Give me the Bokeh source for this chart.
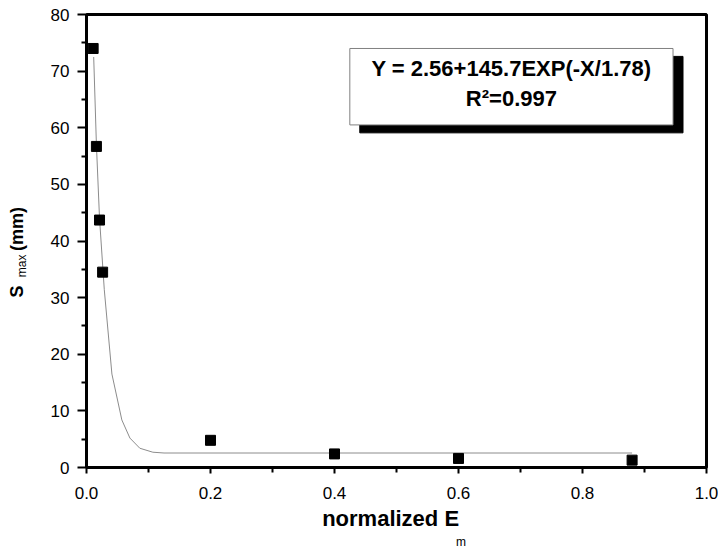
from bokeh.plotting import figure
from bokeh.models import Label, Range1d, FixedTicker, LinearAxis
from bokeh.embed import file_html
from bokeh.resources import INLINE

# ---- data ----
em_norm = [0.0107, 0.016, 0.021, 0.026, 0.2, 0.4, 0.6, 0.88]
s_max = [74.0, 56.7, 43.7, 34.5, 4.8, 2.4, 1.6, 1.3]

fit_x = [0.0116, 0.016, 0.021, 0.0287, 0.041, 0.057, 0.070, 0.086, 0.107, 0.125, 0.88]
fit_y = [72.5, 57.0, 44.0, 31.4, 16.5, 8.4, 5.2, 3.4, 2.7, 2.56, 2.56]

x_ticks = [0.0, 0.2, 0.4, 0.6, 0.8, 1.0]
x_minor = [0.1, 0.3, 0.5, 0.7, 0.9]
x_tick_labels = ["0.0", "0.2", "0.4", "0.6", "0.8", "1.0"]
y_ticks = [0, 10, 20, 30, 40, 50, 60, 70, 80]
y_minor = [5, 15, 25, 35, 45, 55, 65, 75]

eq_text = "Y = 2.56+145.7EXP(-X/1.78)"
r2_text = "R\u00b2=0.997"
x_title, x_sub = "normalized E", "m"
y_title, y_sub, y_unit = "S", "max", "(mm)"

FONT = "Liberation Sans"

p = figure(width=718, height=551, output_backend="svg", toolbar_location=None,
           x_range=Range1d(0, 1), y_range=Range1d(0, 80),
           min_border_left=86, min_border_right=12, min_border_top=14, min_border_bottom=84)
p.grid.visible = False
p.outline_line_color = "black"
p.outline_line_width = 3
p.background_fill_color = "white"

for ax in (p.xaxis[0], p.yaxis[0]):
    ax.axis_line_width = 3
    ax.axis_line_color = "black"
    ax.major_tick_line_width = 2
    ax.minor_tick_line_width = 2
    ax.major_tick_in = 0
    ax.minor_tick_in = 0
    ax.major_label_text_font = FONT
    ax.major_label_text_font_size = "17px"
    ax.major_label_text_color = "black"

p.xaxis[0].ticker = FixedTicker(ticks=x_ticks, minor_ticks=x_minor)
p.xaxis[0].major_label_overrides = {t: l for t, l in zip(x_ticks, x_tick_labels)}
p.xaxis[0].major_tick_out = 6
p.xaxis[0].minor_tick_out = 5
p.xaxis[0].major_label_standoff = 13

p.yaxis[0].ticker = FixedTicker(ticks=y_ticks, minor_ticks=y_minor)
p.yaxis[0].major_tick_out = 9
p.yaxis[0].minor_tick_out = 5
p.yaxis[0].major_label_standoff = 8


def text_axis(side, ticks, texts, size, bold, standoff, orientation="horizontal"):
    ax = LinearAxis(ticker=FixedTicker(ticks=ticks, minor_ticks=[]),
                    major_label_overrides={t: s for t, s in zip(ticks, texts)})
    ax.axis_line_color = None
    ax.major_tick_line_color = None
    ax.minor_tick_line_color = None
    ax.major_tick_out = 0
    ax.major_tick_in = 0
    ax.minor_tick_out = 0
    ax.major_label_standoff = standoff
    ax.major_label_orientation = orientation
    ax.major_label_text_font = FONT
    ax.major_label_text_font_size = size
    ax.major_label_text_font_style = "bold" if bold else "normal"
    ax.major_label_text_color = "black"
    p.add_layout(ax, side)
    return ax


# x axis title "normalized E" with subscript "m"
text_axis("below", [0.4905], [x_title], "22px", True, 4)
text_axis("below", [0.604], [x_sub], "12px", False, 1)

# y axis title "S" + subscript "max" + "(mm)"
text_axis("left", [35.6], [y_sub], "12px", False, 18, "vertical")
text_axis("left", [31.1, 42.1], [y_title, y_unit], "18px", True, -15, "vertical")

# fit curve
p.line(fit_x, fit_y, line_color="#8c8c8c", line_width=1)
# data points
p.scatter(em_norm, s_max, marker="square", size=10, fill_color="black", line_color="black")

# equation box with shadow
bx0, bx1, by0, by1 = 0.4247, 0.946, 60.5, 74.0
dx, dy = 0.0161, 1.40
p.quad(left=[bx0 + dx], right=[bx1 + dx], bottom=[by0 - dy], top=[by1 - dy],
       fill_color="black", line_color="black")
p.quad(left=[bx0], right=[bx1], bottom=[by0], top=[by1],
       fill_color="white", line_color="#808080", line_width=1)

cx = (bx0 + bx1) / 2
p.add_layout(Label(x=cx, y=70.4, text=eq_text, text_align="center", text_baseline="middle",
                   text_font=FONT, text_font_style="bold", text_font_size="22px",
                   text_color="black"))
p.add_layout(Label(x=cx, y=65.2, text=r2_text, text_align="center", text_baseline="middle",
                   text_font=FONT, text_font_style="bold", text_font_size="22px",
                   text_color="black"))

open("out.html", "w").write(file_html(p, INLINE))
